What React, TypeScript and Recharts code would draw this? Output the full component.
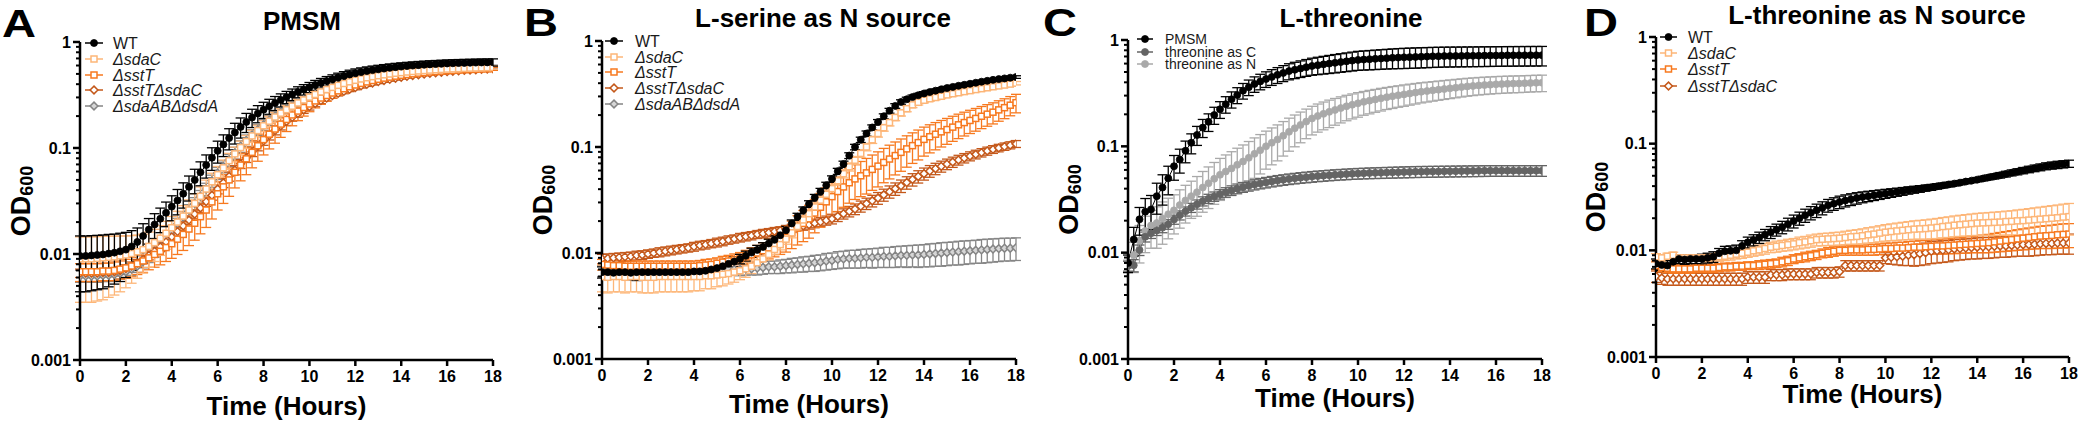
import React from "react";
import { LineChart, Line, XAxis, YAxis, ErrorBar, Legend } from "recharts";

const FONT = "'Liberation Sans', Arial, sans-serif";

const hours = [
  0, 0.25, 0.5, 0.75, 1, 1.25, 1.5, 1.75,
  2, 2.25, 2.5, 2.75, 3, 3.25, 3.5, 3.75,
  4, 4.25, 4.5, 4.75, 5, 5.25, 5.5, 5.75,
  6, 6.25, 6.5, 6.75, 7, 7.25, 7.5, 7.75,
  8, 8.25, 8.5, 8.75, 9, 9.25, 9.5, 9.75,
  10, 10.25, 10.5, 10.75, 11, 11.25, 11.5, 11.75,
  12, 12.25, 12.5, 12.75, 13, 13.25, 13.5, 13.75,
  14, 14.25, 14.5, 14.75, 15, 15.25, 15.5, 15.75,
  16, 16.25, 16.5, 16.75, 17, 17.25, 17.5, 17.75,
  18,
];

const xTicks = [0, 2, 4, 6, 8, 10, 12, 14, 16, 18];
const yTicks = [
  0.001, 0.002, 0.003, 0.004, 0.005, 0.006, 0.007, 0.008, 0.009,
  0.01, 0.02, 0.03, 0.04, 0.05, 0.06, 0.07, 0.08, 0.09,
  0.1, 0.2, 0.3, 0.4, 0.5, 0.6, 0.7, 0.8, 0.9, 1,
];
const yMajor = [0.001, 0.01, 0.1, 1];
const yMajorLabels = ["0.001", "0.01", "0.1", "1"];

// ---- Panel A: PMSM ----
const aWT = [
  0.0096, 0.0096, 0.0097, 0.0098, 0.0099, 0.0101, 0.0103, 0.0106,
  0.011, 0.0118, 0.013, 0.0148, 0.017, 0.019, 0.0215, 0.0245,
  0.028, 0.032, 0.037, 0.043, 0.05, 0.059, 0.069, 0.081,
  0.094, 0.108, 0.124, 0.14, 0.158, 0.176, 0.194, 0.212,
  0.23, 0.248, 0.266, 0.284, 0.302, 0.32, 0.338, 0.356,
  0.374, 0.392, 0.41, 0.428, 0.445, 0.462, 0.478, 0.494,
  0.508, 0.52, 0.532, 0.543, 0.553, 0.562, 0.571, 0.579,
  0.586, 0.593, 0.599, 0.605, 0.61, 0.615, 0.619, 0.623,
  0.627, 0.63, 0.633, 0.635, 0.637, 0.639, 0.641, 0.642,
  0.643,
];
const aWTErr = [
  0.0052, 0.0052, 0.0052, 0.0052, 0.0052, 0.0052, 0.0051, 0.0051,
  0.005, 0.0048, 0.0046, 0.0045, 0.0046, 0.005, 0.0056, 0.0064,
  0.0074, 0.0086, 0.0099, 0.0114, 0.013, 0.015, 0.017, 0.0195,
  0.022, 0.025, 0.028, 0.031, 0.034, 0.036, 0.038, 0.039,
  0.04, 0.04, 0.04, 0.04, 0.04, 0.04, 0.04, 0.04,
  0.041, 0.042, 0.043, 0.044, 0.045, 0.046, 0.047, 0.048,
  0.049, 0.05, 0.05, 0.05, 0.05, 0.05, 0.05, 0.05,
  0.05, 0.05, 0.05, 0.05, 0.05, 0.05, 0.05, 0.05,
  0.05, 0.05, 0.05, 0.05, 0.05, 0.05, 0.05, 0.05,
  0.05,
];
const aSdaC = [
  0.009, 0.009, 0.009, 0.0091, 0.0092, 0.0093, 0.0094, 0.0096,
  0.0098, 0.0101, 0.0105, 0.011, 0.0118, 0.0128, 0.0141, 0.0157,
  0.0177, 0.02, 0.0228, 0.026, 0.03, 0.035, 0.041, 0.048,
  0.056, 0.065, 0.076, 0.088, 0.101, 0.115, 0.13, 0.146,
  0.162, 0.179, 0.196, 0.213, 0.23, 0.248, 0.266, 0.284,
  0.302, 0.32, 0.338, 0.356, 0.373, 0.39, 0.406, 0.421,
  0.435, 0.448, 0.46, 0.471, 0.481, 0.49, 0.499, 0.507,
  0.514, 0.521, 0.527, 0.533, 0.538, 0.543, 0.547, 0.551,
  0.555, 0.558, 0.561, 0.564, 0.567, 0.569, 0.571, 0.573,
  0.575,
];
const aSdaCErr = [
  0.0055, 0.0055, 0.0055, 0.0055, 0.0055, 0.0054, 0.0053, 0.0052,
  0.005, 0.0048, 0.0046, 0.0044, 0.0043, 0.0043, 0.0044, 0.0046,
  0.0049, 0.0053, 0.0058, 0.0064, 0.0071, 0.0079, 0.0088, 0.0098,
  0.011, 0.012, 0.013, 0.014, 0.015, 0.016, 0.017, 0.018,
  0.019, 0.02, 0.021, 0.022, 0.022, 0.022, 0.022, 0.022,
  0.022, 0.022, 0.022, 0.022, 0.022, 0.022, 0.022, 0.022,
  0.022, 0.022, 0.022, 0.022, 0.022, 0.022, 0.022, 0.022,
  0.022, 0.022, 0.022, 0.022, 0.022, 0.022, 0.022, 0.022,
  0.022, 0.022, 0.022, 0.022, 0.022, 0.022, 0.022, 0.022,
  0.022,
];
const aSstT = [
  0.0068, 0.0068, 0.0068, 0.0068, 0.0069, 0.0069, 0.007, 0.0072,
  0.0074, 0.0077, 0.0081, 0.0086, 0.0092, 0.0099, 0.0106, 0.0115,
  0.0125, 0.0138, 0.0153, 0.0172, 0.0195, 0.0225, 0.026, 0.031,
  0.037, 0.043, 0.05, 0.059, 0.069, 0.079, 0.091, 0.105,
  0.12, 0.135, 0.151, 0.168, 0.186, 0.205, 0.223, 0.241,
  0.26, 0.278, 0.296, 0.313, 0.33, 0.346, 0.362, 0.378,
  0.393, 0.407, 0.42, 0.433, 0.445, 0.456, 0.466, 0.476,
  0.485, 0.493, 0.501, 0.508, 0.515, 0.521, 0.526, 0.531,
  0.536, 0.54, 0.544, 0.548, 0.551, 0.554, 0.557, 0.559,
  0.561,
];
const aSstTErr = [
  0.0013, 0.0013, 0.0013, 0.0013, 0.0013, 0.0013, 0.0014, 0.0014,
  0.0015, 0.0016, 0.0017, 0.0019, 0.0021, 0.0024, 0.0027, 0.003,
  0.0034, 0.0039, 0.0045, 0.0052, 0.006, 0.007, 0.0082, 0.0096,
  0.011, 0.013, 0.015, 0.017, 0.02, 0.023, 0.026, 0.03,
  0.034, 0.037, 0.04, 0.042, 0.043, 0.043, 0.042, 0.041,
  0.04, 0.039, 0.038, 0.037, 0.035, 0.033, 0.031, 0.029,
  0.027, 0.026, 0.025, 0.024, 0.023, 0.022, 0.021, 0.02,
  0.02, 0.02, 0.02, 0.02, 0.02, 0.02, 0.02, 0.02,
  0.02, 0.02, 0.02, 0.02, 0.02, 0.02, 0.02, 0.02,
  0.02,
];
const aDouble = [
  0.0066, 0.0066, 0.0066, 0.0066, 0.0067, 0.0067, 0.0068, 0.007,
  0.0073, 0.0077, 0.0082, 0.0089, 0.0097, 0.0106, 0.0117, 0.013,
  0.0145, 0.0163, 0.0184, 0.0209, 0.0238, 0.0272, 0.0312, 0.0358,
  0.041, 0.047, 0.054, 0.062, 0.071, 0.081, 0.092, 0.104,
  0.117, 0.131, 0.146, 0.162, 0.178, 0.195, 0.212, 0.229,
  0.246, 0.263, 0.28, 0.296, 0.312, 0.328, 0.343, 0.358,
  0.372, 0.386, 0.399, 0.411, 0.423, 0.434, 0.445, 0.455,
  0.465, 0.474, 0.483, 0.491, 0.499, 0.506, 0.513, 0.519,
  0.525, 0.53, 0.535, 0.54, 0.544, 0.548, 0.552, 0.555,
  0.558,
];
const aDoubleErr = [
  0.0006, 0.0006, 0.0006, 0.0006, 0.0006, 0.0006, 0.0006, 0.0006,
  0.0006, 0.0007, 0.0007, 0.0008, 0.0009, 0.001, 0.0011, 0.0012,
  0.0014, 0.0016, 0.0018, 0.002, 0.0023, 0.0027, 0.0031, 0.0036,
  0.0041, 0.0047, 0.0054, 0.0062, 0.007, 0.008, 0.009, 0.01,
  0.011, 0.012, 0.013, 0.014, 0.015, 0.016, 0.017, 0.017,
  0.018, 0.018, 0.018, 0.018, 0.018, 0.018, 0.018, 0.018,
  0.018, 0.018, 0.018, 0.018, 0.018, 0.018, 0.018, 0.018,
  0.018, 0.018, 0.018, 0.018, 0.018, 0.018, 0.018, 0.018,
  0.018, 0.018, 0.018, 0.018, 0.018, 0.018, 0.018, 0.018,
  0.018,
];
const aSda = [
  0.0062, 0.0062, 0.0062, 0.0062, 0.0063, 0.0063, 0.0064, 0.0066,
  0.0068, 0.0072, 0.0077, 0.0085, 0.0095, 0.0107, 0.0121, 0.0141,
  0.0165, 0.0192, 0.0222, 0.0258, 0.03, 0.035, 0.041, 0.049,
  0.058, 0.067, 0.077, 0.09, 0.104, 0.118, 0.133, 0.149,
  0.166, 0.183, 0.2, 0.217, 0.234, 0.251, 0.268, 0.285,
  0.302, 0.319, 0.336, 0.352, 0.368, 0.383, 0.398, 0.412,
  0.426, 0.439, 0.451, 0.462, 0.473, 0.483, 0.493, 0.502,
  0.51, 0.518, 0.525, 0.532, 0.538, 0.544, 0.549, 0.554,
  0.558, 0.562, 0.566, 0.569, 0.572, 0.575, 0.577, 0.579,
  0.581,
];
const aSdaErr = [
  0.0008, 0.0008, 0.0008, 0.0008, 0.0008, 0.0008, 0.0008, 0.0008,
  0.0008, 0.0009, 0.001, 0.0011, 0.0012, 0.0014, 0.0016, 0.0018,
  0.0021, 0.0025, 0.0029, 0.0034, 0.004, 0.0047, 0.0055, 0.0064,
  0.0075, 0.0087, 0.01, 0.0115, 0.013, 0.0145, 0.016, 0.0175,
  0.019, 0.02, 0.021, 0.022, 0.023, 0.024, 0.024, 0.024,
  0.024, 0.024, 0.024, 0.024, 0.024, 0.024, 0.024, 0.024,
  0.024, 0.024, 0.024, 0.024, 0.024, 0.024, 0.024, 0.024,
  0.024, 0.024, 0.024, 0.024, 0.024, 0.024, 0.024, 0.024,
  0.024, 0.024, 0.024, 0.024, 0.024, 0.024, 0.024, 0.024,
  0.024,
];

// ---- Panel B: L-serine as N source ----
const bWT = [
  0.0066, 0.0066, 0.0065, 0.0066, 0.0066, 0.0065, 0.0066, 0.0066,
  0.0066, 0.0066, 0.0066, 0.0066, 0.0066, 0.0066, 0.0066, 0.0066,
  0.0067, 0.0067, 0.0068, 0.007, 0.0072, 0.0075, 0.0079, 0.0083,
  0.0088, 0.0094, 0.0101, 0.0107, 0.0114, 0.0123, 0.0133, 0.0147,
  0.0164, 0.019, 0.022, 0.0253, 0.029, 0.0333, 0.038, 0.0435,
  0.05, 0.059, 0.069, 0.083, 0.1, 0.117, 0.134, 0.153,
  0.172, 0.195, 0.22, 0.244, 0.266, 0.282, 0.296, 0.308,
  0.32, 0.33, 0.34, 0.35, 0.36, 0.369, 0.378, 0.386,
  0.395, 0.404, 0.413, 0.421, 0.43, 0.437, 0.444, 0.451,
  0.457,
];
const bWTErr = [
  0.0008, 0.0008, 0.0008, 0.0008, 0.0008, 0.0009, 0.0011, 0.0009,
  0.0008, 0.0008, 0.0008, 0.0008, 0.0008, 0.0008, 0.0008, 0.0008,
  0.0008, 0.0008, 0.0008, 0.0008, 0.0008, 0.0009, 0.0009, 0.0009,
  0.0009, 0.001, 0.001, 0.0011, 0.0011, 0.0012, 0.0012, 0.0013,
  0.0014, 0.0015, 0.0017, 0.0019, 0.0021, 0.0024, 0.0027, 0.003,
  0.0034, 0.0039, 0.0045, 0.0052, 0.006, 0.0068, 0.0076, 0.0085,
  0.0095, 0.0105, 0.0115, 0.0122, 0.0128, 0.013, 0.013, 0.013,
  0.013, 0.013, 0.013, 0.013, 0.013, 0.013, 0.013, 0.013,
  0.013, 0.013, 0.013, 0.013, 0.013, 0.013, 0.013, 0.013,
  0.013,
];
const bSdaC = [
  0.006, 0.0059, 0.006, 0.006, 0.0059, 0.006, 0.006, 0.0059,
  0.0059, 0.0059, 0.006, 0.006, 0.006, 0.006, 0.006, 0.006,
  0.006, 0.006, 0.0061, 0.0061, 0.0062, 0.0063, 0.0064, 0.0066,
  0.0068, 0.0071, 0.0075, 0.0081, 0.0088, 0.0097, 0.0108, 0.012,
  0.0135, 0.0155, 0.0178, 0.0205, 0.0235, 0.0272, 0.0315, 0.0358,
  0.0405, 0.048, 0.056, 0.065, 0.075, 0.087, 0.1, 0.117,
  0.134, 0.152, 0.17, 0.19, 0.21, 0.23, 0.25, 0.264,
  0.276, 0.285, 0.293, 0.301, 0.31, 0.318, 0.325, 0.333,
  0.34, 0.348, 0.355, 0.362, 0.37, 0.377, 0.384, 0.392,
  0.4,
];
const bSdaCErr = [
  0.0017, 0.0017, 0.0017, 0.0017, 0.0017, 0.0017, 0.0017, 0.0017,
  0.0017, 0.0017, 0.0017, 0.0017, 0.0017, 0.0017, 0.0017, 0.0017,
  0.0016, 0.0016, 0.0015, 0.0015, 0.0014, 0.0014, 0.0013, 0.0013,
  0.0012, 0.0012, 0.0011, 0.0011, 0.0011, 0.0011, 0.0012, 0.0013,
  0.0014, 0.0016, 0.0018, 0.002, 0.0023, 0.0026, 0.003, 0.0034,
  0.0038, 0.0044, 0.005, 0.0057, 0.0064, 0.0072, 0.008, 0.009,
  0.01, 0.011, 0.012, 0.013, 0.014, 0.015, 0.015, 0.015,
  0.015, 0.015, 0.015, 0.015, 0.015, 0.015, 0.015, 0.015,
  0.015, 0.015, 0.015, 0.015, 0.015, 0.015, 0.015, 0.015,
  0.015,
];
const bSstT = [
  0.0078, 0.0077, 0.0076, 0.0076, 0.0075, 0.0075, 0.0075, 0.0075,
  0.0075, 0.0075, 0.0075, 0.0075, 0.0075, 0.0075, 0.0075, 0.0075,
  0.0075, 0.0076, 0.0077, 0.0078, 0.008, 0.0082, 0.0084, 0.0086,
  0.0088, 0.0092, 0.0096, 0.01, 0.0105, 0.0112, 0.012, 0.013,
  0.014, 0.0155, 0.0172, 0.019, 0.021, 0.0238, 0.027, 0.0304,
  0.034, 0.038, 0.042, 0.046, 0.05, 0.0535, 0.057, 0.0615,
  0.066, 0.0715, 0.077, 0.083, 0.089, 0.096, 0.103, 0.11,
  0.118, 0.125, 0.132, 0.139, 0.146, 0.154, 0.162, 0.17,
  0.178, 0.186, 0.195, 0.204, 0.213, 0.224, 0.235, 0.248,
  0.262,
];
const bSstTErr = [
  0.0009, 0.0009, 0.0009, 0.0009, 0.0009, 0.0009, 0.0009, 0.0009,
  0.0009, 0.0009, 0.0009, 0.0009, 0.0009, 0.0009, 0.0009, 0.0009,
  0.0009, 0.0009, 0.001, 0.001, 0.001, 0.0011, 0.0011, 0.0012,
  0.0013, 0.0014, 0.0016, 0.0018, 0.002, 0.0024, 0.0028, 0.0033,
  0.0038, 0.0045, 0.0053, 0.0062, 0.0072, 0.0083, 0.0095, 0.0108,
  0.012, 0.0135, 0.015, 0.0165, 0.018, 0.0195, 0.021, 0.0225,
  0.024, 0.0255, 0.027, 0.0285, 0.03, 0.0315, 0.033, 0.0345,
  0.036, 0.037, 0.038, 0.039, 0.04, 0.041, 0.042, 0.043,
  0.044, 0.045, 0.046, 0.047, 0.048, 0.049, 0.05, 0.051,
  0.052,
];
const bDouble = [
  0.0088, 0.0089, 0.009, 0.0091, 0.0092, 0.0093, 0.0095, 0.0096,
  0.0098, 0.01, 0.0102, 0.0104, 0.0106, 0.0108, 0.011, 0.0112,
  0.0115, 0.0118, 0.012, 0.0123, 0.0126, 0.0129, 0.0133, 0.0136,
  0.014, 0.0143, 0.0146, 0.015, 0.0153, 0.0156, 0.016, 0.0163,
  0.0167, 0.0171, 0.0176, 0.018, 0.0185, 0.0191, 0.0197, 0.0203,
  0.021, 0.0222, 0.0235, 0.0247, 0.026, 0.0276, 0.0293, 0.0311,
  0.033, 0.0354, 0.0379, 0.0404, 0.043, 0.0462, 0.0494, 0.0527,
  0.056, 0.0593, 0.0625, 0.0657, 0.069, 0.0722, 0.0755, 0.0787,
  0.082, 0.0852, 0.0885, 0.0917, 0.095, 0.098, 0.101, 0.104,
  0.107,
];
const bDoubleErr = [
  0.0009, 0.0009, 0.0009, 0.0009, 0.0009, 0.0009, 0.0009, 0.0009,
  0.0009, 0.0009, 0.001, 0.001, 0.001, 0.001, 0.001, 0.001,
  0.0011, 0.0011, 0.0011, 0.0011, 0.0012, 0.0012, 0.0012, 0.0012,
  0.0013, 0.0013, 0.0013, 0.0013, 0.0014, 0.0014, 0.0014, 0.0014,
  0.0015, 0.0015, 0.0016, 0.0016, 0.0017, 0.0018, 0.0019, 0.002,
  0.0022, 0.0024, 0.0026, 0.0028, 0.003, 0.0033, 0.0036, 0.0039,
  0.0042, 0.0046, 0.005, 0.0054, 0.0058, 0.0062, 0.0066, 0.007,
  0.0073, 0.0075, 0.0077, 0.0078, 0.0079, 0.008, 0.008, 0.008,
  0.008, 0.008, 0.008, 0.008, 0.008, 0.008, 0.008, 0.008,
  0.008,
];
const bSda = [
  0.0068, 0.0068, 0.0068, 0.0068, 0.0068, 0.0068, 0.0068, 0.0068,
  0.0068, 0.0068, 0.0068, 0.0068, 0.0068, 0.0068, 0.0068, 0.0068,
  0.0068, 0.0068, 0.0069, 0.0069, 0.0069, 0.0069, 0.007, 0.007,
  0.007, 0.0071, 0.0071, 0.0072, 0.0073, 0.0074, 0.0074, 0.0075,
  0.0076, 0.0077, 0.0078, 0.0079, 0.008, 0.0081, 0.0082, 0.0084,
  0.0085, 0.0087, 0.0088, 0.0089, 0.0089, 0.009, 0.0091, 0.0091,
  0.0092, 0.0093, 0.0093, 0.0094, 0.0095, 0.0095, 0.0096, 0.0096,
  0.0097, 0.0098, 0.0099, 0.01, 0.0101, 0.0102, 0.0103, 0.0104,
  0.0105, 0.0106, 0.0107, 0.0108, 0.0109, 0.011, 0.0111, 0.0111,
  0.0112,
];
const bSdaErr = [
  0.0008, 0.0008, 0.0008, 0.0008, 0.0008, 0.0008, 0.0008, 0.0008,
  0.0008, 0.0008, 0.0008, 0.0008, 0.0008, 0.0008, 0.0008, 0.0008,
  0.0008, 0.0008, 0.0008, 0.0008, 0.0008, 0.0008, 0.0008, 0.0008,
  0.0009, 0.0009, 0.0009, 0.001, 0.001, 0.001, 0.001, 0.0011,
  0.0011, 0.0012, 0.0012, 0.0013, 0.0013, 0.0014, 0.0014, 0.0015,
  0.0015, 0.0016, 0.0016, 0.0017, 0.0017, 0.0018, 0.0018, 0.0019,
  0.0019, 0.002, 0.002, 0.0021, 0.0021, 0.0022, 0.0022, 0.0023,
  0.0023, 0.0024, 0.0024, 0.0025, 0.0025, 0.0025, 0.0026, 0.0026,
  0.0026, 0.0026, 0.0027, 0.0027, 0.0027, 0.0027, 0.0027, 0.0027,
  0.0027,
];

// ---- Panel C: L-threonine ----
const cPMSM = [
  0.008, 0.0133, 0.0206, 0.0243, 0.0255, 0.034, 0.041, 0.05,
  0.065, 0.075, 0.091, 0.108, 0.128, 0.15, 0.17, 0.197,
  0.223, 0.249, 0.277, 0.304, 0.334, 0.36, 0.386, 0.408,
  0.43, 0.45, 0.47, 0.49, 0.51, 0.525, 0.54, 0.555,
  0.57, 0.58, 0.59, 0.6, 0.61, 0.62, 0.63, 0.64,
  0.65, 0.655, 0.66, 0.665, 0.67, 0.675, 0.68, 0.684,
  0.687, 0.69, 0.693, 0.696, 0.699, 0.702, 0.704, 0.706,
  0.707, 0.708, 0.709, 0.71, 0.711, 0.712, 0.713, 0.714,
  0.715, 0.716, 0.717, 0.717, 0.718, 0.718, 0.719, 0.719,
  0.72,
];
const cPMSMErr = [
  0.0015, 0.004, 0.006, 0.008, 0.009, 0.011, 0.013, 0.015,
  0.017, 0.019, 0.021, 0.023, 0.026, 0.029, 0.032, 0.036,
  0.04, 0.044, 0.048, 0.052, 0.056, 0.06, 0.064, 0.068,
  0.072, 0.076, 0.08, 0.084, 0.088, 0.092, 0.096, 0.1,
  0.104, 0.108, 0.112, 0.116, 0.12, 0.123, 0.126, 0.129,
  0.132, 0.134, 0.136, 0.138, 0.14, 0.142, 0.144, 0.146,
  0.148, 0.149, 0.15, 0.15, 0.15, 0.15, 0.15, 0.15,
  0.15, 0.15, 0.15, 0.15, 0.15, 0.15, 0.15, 0.15,
  0.15, 0.15, 0.15, 0.15, 0.15, 0.15, 0.15, 0.15,
  0.15,
];
const cThrC = [
  0.0075, 0.0076, 0.0106, 0.0141, 0.0152, 0.0162, 0.0172, 0.0185,
  0.0205, 0.0225, 0.0245, 0.0265, 0.0285, 0.0305, 0.0322, 0.0338,
  0.0355, 0.037, 0.0385, 0.04, 0.0413, 0.0425, 0.0437, 0.0448,
  0.0458, 0.0468, 0.0477, 0.0485, 0.0493, 0.05, 0.0507, 0.0513,
  0.0519, 0.0525, 0.053, 0.0535, 0.054, 0.0544, 0.0548, 0.0552,
  0.0555, 0.0558, 0.0561, 0.0563, 0.0565, 0.0567, 0.0569, 0.0571,
  0.0573, 0.0575, 0.0577, 0.0578, 0.0579, 0.058, 0.0581, 0.0582,
  0.0583, 0.0584, 0.0585, 0.0586, 0.0587, 0.0588, 0.0589, 0.059,
  0.059, 0.059, 0.059, 0.059, 0.059, 0.059, 0.059, 0.059,
  0.059,
];
const cThrCErr = [
  0.0008, 0.001, 0.0012, 0.0015, 0.0016, 0.0017, 0.0018, 0.0019,
  0.002, 0.0022, 0.0024, 0.0026, 0.0028, 0.003, 0.0032, 0.0034,
  0.0036, 0.0038, 0.004, 0.0042, 0.0044, 0.0046, 0.0048, 0.005,
  0.0052, 0.0053, 0.0054, 0.0055, 0.0056, 0.0057, 0.0058, 0.0059,
  0.006, 0.006, 0.0061, 0.0061, 0.0062, 0.0062, 0.0063, 0.0063,
  0.0064, 0.0064, 0.0065, 0.0065, 0.0066, 0.0066, 0.0067, 0.0067,
  0.0068, 0.0068, 0.0068, 0.0068, 0.0068, 0.0068, 0.0068, 0.0068,
  0.0068, 0.0068, 0.0068, 0.0068, 0.0068, 0.0068, 0.0068, 0.0068,
  0.0068, 0.0068, 0.0068, 0.0068, 0.0068, 0.0068, 0.0068, 0.0068,
  0.0068,
];
const cThrN = [
  0.0075, 0.0095, 0.013, 0.016, 0.018, 0.019, 0.021, 0.023,
  0.025, 0.028, 0.031, 0.034, 0.037, 0.041, 0.045, 0.0495,
  0.054, 0.058, 0.062, 0.067, 0.072, 0.078, 0.085, 0.092,
  0.1, 0.108, 0.116, 0.126, 0.137, 0.148, 0.159, 0.171,
  0.183, 0.193, 0.202, 0.211, 0.22, 0.229, 0.238, 0.246,
  0.254, 0.262, 0.269, 0.276, 0.283, 0.29, 0.296, 0.302,
  0.308, 0.314, 0.32, 0.326, 0.331, 0.336, 0.341, 0.346,
  0.351, 0.356, 0.361, 0.366, 0.37, 0.374, 0.377, 0.38,
  0.383, 0.385, 0.387, 0.389, 0.39, 0.392, 0.394, 0.396,
  0.397,
];
const cThrNErr = [
  0.001, 0.003, 0.005, 0.006, 0.007, 0.008, 0.009, 0.0095,
  0.01, 0.011, 0.012, 0.013, 0.015, 0.017, 0.019, 0.021,
  0.023, 0.025, 0.027, 0.029, 0.031, 0.033, 0.035, 0.037,
  0.039, 0.041, 0.043, 0.045, 0.047, 0.049, 0.051, 0.053,
  0.055, 0.057, 0.059, 0.061, 0.062, 0.063, 0.064, 0.065,
  0.066, 0.066, 0.067, 0.067, 0.068, 0.068, 0.069, 0.069,
  0.07, 0.07, 0.07, 0.07, 0.07, 0.07, 0.07, 0.07,
  0.07, 0.07, 0.07, 0.07, 0.07, 0.07, 0.07, 0.07,
  0.07, 0.07, 0.07, 0.07, 0.07, 0.07, 0.07, 0.07,
  0.07,
];

// ---- Panel D: L-threonine as N source ----
const dWT = [
  0.0075, 0.0073, 0.0072, 0.0078, 0.0083, 0.0082, 0.0083, 0.0083,
  0.0083, 0.0085, 0.0087, 0.0094, 0.0098, 0.0099, 0.01, 0.011,
  0.0119, 0.0125, 0.0132, 0.014, 0.0148, 0.0156, 0.0165, 0.0176,
  0.0188, 0.02, 0.0213, 0.0225, 0.0237, 0.025, 0.0264, 0.0274,
  0.0284, 0.0293, 0.0301, 0.0309, 0.0316, 0.0322, 0.0328, 0.0334,
  0.034, 0.0346, 0.0352, 0.0358, 0.0365, 0.0371, 0.0377, 0.0384,
  0.039, 0.0398, 0.0406, 0.0414, 0.0422, 0.0431, 0.0441, 0.045,
  0.046, 0.0471, 0.0483, 0.0494, 0.0506, 0.0519, 0.0533, 0.0546,
  0.056, 0.0574, 0.0588, 0.0601, 0.0615, 0.0625, 0.0634, 0.0642,
  0.065,
];
const dWTErr = [
  0.0008, 0.0008, 0.0008, 0.0008, 0.0008, 0.0008, 0.0008, 0.0008,
  0.0009, 0.0009, 0.001, 0.001, 0.0011, 0.0011, 0.0012, 0.0013,
  0.0014, 0.0015, 0.0016, 0.0017, 0.0019, 0.002, 0.0022, 0.0024,
  0.0026, 0.0028, 0.003, 0.0032, 0.0034, 0.0035, 0.0036, 0.0037,
  0.0038, 0.0038, 0.0038, 0.0038, 0.0037, 0.0036, 0.0035, 0.0034,
  0.0033, 0.0032, 0.0031, 0.003, 0.0029, 0.0028, 0.0027, 0.0026,
  0.0025, 0.0024, 0.0023, 0.0022, 0.0021, 0.002, 0.002, 0.002,
  0.0022, 0.0024, 0.0026, 0.0028, 0.003, 0.0032, 0.0034, 0.0036,
  0.0038, 0.004, 0.0042, 0.0044, 0.0046, 0.0048, 0.005, 0.005,
  0.005,
];
const dSdaC = [
  0.0087, 0.0085, 0.0088, 0.009, 0.0085, 0.0085, 0.0085, 0.0085,
  0.0085, 0.0085, 0.0086, 0.0087, 0.0088, 0.009, 0.0092, 0.0094,
  0.0096, 0.0099, 0.0101, 0.0104, 0.0107, 0.0109, 0.0111, 0.0113,
  0.0115, 0.0118, 0.012, 0.0123, 0.0126, 0.0127, 0.0128, 0.0129,
  0.013, 0.0132, 0.0134, 0.0135, 0.0137, 0.014, 0.0142, 0.0145,
  0.0148, 0.015, 0.0152, 0.0154, 0.0156, 0.0158, 0.0159, 0.016,
  0.0162, 0.0164, 0.0167, 0.0169, 0.0172, 0.0174, 0.0176, 0.0178,
  0.018, 0.0181, 0.0182, 0.0183, 0.0184, 0.0186, 0.0187, 0.0189,
  0.019, 0.0192, 0.0194, 0.0196, 0.0198, 0.02, 0.0202, 0.0205,
  0.0207,
];
const dSdaCErr = [
  0.0006, 0.0006, 0.0006, 0.0006, 0.0006, 0.0006, 0.0006, 0.0006,
  0.0006, 0.0007, 0.0007, 0.0008, 0.0008, 0.0009, 0.0009, 0.001,
  0.001, 0.0011, 0.0011, 0.0012, 0.0012, 0.0013, 0.0013, 0.0014,
  0.0014, 0.0015, 0.0015, 0.0016, 0.0016, 0.0017, 0.0017, 0.0018,
  0.0018, 0.0019, 0.002, 0.0021, 0.0022, 0.0023, 0.0024, 0.0025,
  0.0026, 0.0027, 0.0028, 0.0029, 0.003, 0.0031, 0.0032, 0.0033,
  0.0034, 0.0035, 0.0036, 0.0037, 0.0038, 0.0039, 0.004, 0.0041,
  0.0042, 0.0043, 0.0044, 0.0045, 0.0046, 0.0047, 0.0048, 0.005,
  0.0052, 0.0054, 0.0056, 0.0058, 0.006, 0.0062, 0.0064, 0.0066,
  0.0068,
];
const dSstT = [
  0.0072, 0.0069, 0.0068, 0.0067, 0.0067, 0.0067, 0.0067, 0.0068,
  0.0068, 0.0068, 0.0068, 0.0069, 0.007, 0.007, 0.0071, 0.0071,
  0.0072, 0.0072, 0.0073, 0.0074, 0.0075, 0.0076, 0.0078, 0.008,
  0.0083, 0.0085, 0.0087, 0.0089, 0.0091, 0.0094, 0.0096, 0.0098,
  0.01, 0.01, 0.0101, 0.0101, 0.0101, 0.0102, 0.0102, 0.0103,
  0.0104, 0.0104, 0.0105, 0.0105, 0.0106, 0.0107, 0.0107, 0.0108,
  0.0109, 0.011, 0.011, 0.0111, 0.0112, 0.0113, 0.0114, 0.0115,
  0.0116, 0.0117, 0.0118, 0.012, 0.0122, 0.0124, 0.0126, 0.0128,
  0.013, 0.0132, 0.0134, 0.0136, 0.0137, 0.0138, 0.014, 0.0141,
  0.0142,
];
const dSstTErr = [
  0.0006, 0.0006, 0.0006, 0.0006, 0.0006, 0.0006, 0.0006, 0.0006,
  0.0006, 0.0006, 0.0006, 0.0006, 0.0006, 0.0006, 0.0006, 0.0006,
  0.0006, 0.0006, 0.0007, 0.0007, 0.0007, 0.0007, 0.0008, 0.0008,
  0.0008, 0.0008, 0.0009, 0.0009, 0.0009, 0.0009, 0.001, 0.001,
  0.001, 0.001, 0.0011, 0.0011, 0.0011, 0.0012, 0.0012, 0.0012,
  0.0013, 0.0013, 0.0014, 0.0014, 0.0015, 0.0015, 0.0016, 0.0016,
  0.0017, 0.0017, 0.0018, 0.0018, 0.0019, 0.0019, 0.002, 0.002,
  0.0021, 0.0022, 0.0023, 0.0024, 0.0025, 0.0026, 0.0027, 0.0028,
  0.0029, 0.003, 0.0031, 0.0032, 0.0033, 0.0034, 0.0035, 0.0036,
  0.0036,
];
const dDouble = [
  0.0057, 0.0055, 0.0054, 0.0054, 0.0054, 0.0054, 0.0054, 0.0054,
  0.0054, 0.0054, 0.0054, 0.0054, 0.0054, 0.0054, 0.0054, 0.0054,
  0.0056, 0.0056, 0.0056, 0.0056, 0.0059, 0.0059, 0.0059, 0.006,
  0.006, 0.006, 0.006, 0.006, 0.0062, 0.0062, 0.0062, 0.0062,
  0.0063, 0.0072, 0.0072, 0.0072, 0.0072, 0.0072, 0.0072, 0.0072,
  0.0085, 0.0086, 0.0087, 0.0088, 0.009, 0.0091, 0.0093, 0.0095,
  0.0098, 0.0099, 0.01, 0.0101, 0.0103, 0.0104, 0.0105, 0.0106,
  0.0107, 0.0108, 0.0108, 0.0109, 0.011, 0.011, 0.0111, 0.0112,
  0.0113, 0.0113, 0.0114, 0.0115, 0.0116, 0.0116, 0.0117, 0.0117,
  0.0117,
];
const dDoubleErr = [
  0.0007, 0.0007, 0.0007, 0.0007, 0.0007, 0.0007, 0.0007, 0.0007,
  0.0007, 0.0007, 0.0007, 0.0007, 0.0007, 0.0007, 0.0007, 0.0007,
  0.0007, 0.0007, 0.0007, 0.0007, 0.0007, 0.0007, 0.0007, 0.0007,
  0.0007, 0.0007, 0.0007, 0.0007, 0.0007, 0.0007, 0.0007, 0.0007,
  0.0007, 0.0008, 0.0008, 0.0008, 0.0008, 0.0008, 0.0008, 0.0008,
  0.001, 0.0012, 0.0014, 0.0016, 0.0018, 0.002, 0.0021, 0.0022,
  0.0023, 0.0023, 0.0023, 0.0023, 0.0023, 0.0023, 0.0023, 0.0023,
  0.0024, 0.0024, 0.0024, 0.0024, 0.0024, 0.0024, 0.0024, 0.0024,
  0.0025, 0.0025, 0.0025, 0.0025, 0.0025, 0.0025, 0.0025, 0.0025,
  0.0025,
];

type Shape = "circle" | "square" | "diamond";
type Series = {
  key: string;
  name: string;
  italic: boolean;
  color: string;
  fill: string;
  shape: Shape;
  values: number[];
  errors: number[];
};

const BLACK = "#000000";
const LIGHT_ORANGE = "#fdb678";
const ORANGE = "#f7791f";
const DARK_ORANGE = "#c4581a";
const GRAY = "#858585";

const panelASeries: Series[] = [
  { key: "wt", name: "WT", italic: false, color: BLACK, fill: BLACK, shape: "circle", values: aWT, errors: aWTErr },
  { key: "sdaC", name: "ΔsdaC", italic: true, color: LIGHT_ORANGE, fill: "#fff", shape: "square", values: aSdaC, errors: aSdaCErr },
  { key: "sstT", name: "ΔsstT", italic: true, color: ORANGE, fill: "#fff", shape: "square", values: aSstT, errors: aSstTErr },
  { key: "dbl", name: "ΔsstTΔsdaC", italic: true, color: DARK_ORANGE, fill: "#fff", shape: "diamond", values: aDouble, errors: aDoubleErr },
  { key: "sda", name: "ΔsdaABΔdsdA", italic: true, color: GRAY, fill: "#d6d6d6", shape: "diamond", values: aSda, errors: aSdaErr },
];
const panelBSeries: Series[] = [
  { key: "wt", name: "WT", italic: false, color: BLACK, fill: BLACK, shape: "circle", values: bWT, errors: bWTErr },
  { key: "sdaC", name: "ΔsdaC", italic: true, color: LIGHT_ORANGE, fill: "#fff", shape: "square", values: bSdaC, errors: bSdaCErr },
  { key: "sstT", name: "ΔsstT", italic: true, color: ORANGE, fill: "#fff", shape: "square", values: bSstT, errors: bSstTErr },
  { key: "dbl", name: "ΔsstTΔsdaC", italic: true, color: DARK_ORANGE, fill: "#fff", shape: "diamond", values: bDouble, errors: bDoubleErr },
  { key: "sda", name: "ΔsdaABΔdsdA", italic: true, color: GRAY, fill: "#d6d6d6", shape: "diamond", values: bSda, errors: bSdaErr },
];
const panelCSeries: Series[] = [
  { key: "pmsm", name: "PMSM", italic: false, color: BLACK, fill: BLACK, shape: "circle", values: cPMSM, errors: cPMSMErr },
  { key: "thrC", name: "threonine as C", italic: false, color: "#646464", fill: "#646464", shape: "circle", values: cThrC, errors: cThrCErr },
  { key: "thrN", name: "threonine as N", italic: false, color: "#a9a9a9", fill: "#a9a9a9", shape: "circle", values: cThrN, errors: cThrNErr },
];
const panelDSeries: Series[] = [
  { key: "wt", name: "WT", italic: false, color: BLACK, fill: BLACK, shape: "circle", values: dWT, errors: dWTErr },
  { key: "sdaC", name: "ΔsdaC", italic: true, color: LIGHT_ORANGE, fill: "#fff", shape: "square", values: dSdaC, errors: dSdaCErr },
  { key: "sstT", name: "ΔsstT", italic: true, color: ORANGE, fill: "#fff", shape: "square", values: dSstT, errors: dSstTErr },
  { key: "dbl", name: "ΔsstTΔsdaC", italic: true, color: DARK_ORANGE, fill: "#fff", shape: "diamond", values: dDouble, errors: dDoubleErr },
];

type Panel = {
  letter: string;
  title: string;
  left: number;
  axisWidth: number;
  margin: { top: number; right: number; bottom: number; left: number };
  titleX: number;
  titleY: number;
  letterX: number;
  letterY: number;
  yLabelX: number;
  xLabelOffset: number;
  legend: { rows: number[]; x1: number; x2: number; textX: number; fontSize: number };
  series: Series[];
};

const panels: Panel[] = [
  {
    letter: "A", title: "PMSM", left: 0, axisWidth: 80,
    margin: { top: 42, right: 25, bottom: 3, left: 0 },
    titleX: 302, titleY: 30, letterX: 2, letterY: 37, yLabelX: 30, xLabelOffset: 5,
    legend: { rows: [43, 59, 75, 90, 106], x1: 85, x2: 103, textX: 113, fontSize: 16 },
    series: panelASeries,
  },
  {
    letter: "B", title: "L-serine as N source", left: 520, axisWidth: 82,
    margin: { top: 41, right: 22, bottom: 4, left: 0 },
    titleX: 303, titleY: 27, letterX: 4, letterY: 36, yLabelX: 32, xLabelOffset: 6,
    legend: { rows: [41, 57, 72, 88, 104], x1: 85, x2: 103, textX: 115, fontSize: 16 },
    series: panelBSeries,
  },
  {
    letter: "C", title: "L-threonine", left: 1040, axisWidth: 88,
    margin: { top: 40, right: 16, bottom: 4, left: 0 },
    titleX: 311, titleY: 27, letterX: 3, letterY: 36, yLabelX: 38, xLabelOffset: 12,
    legend: { rows: [39, 52, 64], x1: 97, x2: 113, textX: 125, fontSize: 14 },
    series: panelCSeries,
  },
  {
    letter: "D", title: "L-threonine as N source", left: 1560, axisWidth: 96,
    margin: { top: 37, right: 9, bottom: 6, left: 0 },
    titleX: 317, titleY: 24, letterX: 24, letterY: 36, yLabelX: 45, xLabelOffset: 14,
    legend: { rows: [37, 53, 69, 86], x1: 100, x2: 117, textX: 128, fontSize: 16 },
    series: panelDSeries,
  },
];

const CHART_W = 518;
const CHART_H = 423;
const X_AXIS_H = 60;

const Marker = ({ cx, cy, s }: { cx: number; cy: number; s: Series }) => {
  if (cx == null || cy == null || isNaN(cx) || isNaN(cy)) return null;
  if (s.shape === "circle") {
    return <circle cx={cx} cy={cy} r={3.5} fill={s.fill} stroke={s.color} strokeWidth={0.8} />;
  }
  if (s.shape === "square") {
    return <rect x={cx - 3} y={cy - 3} width={6} height={6} fill={s.fill} stroke={s.color} strokeWidth={1.5} />;
  }
  const r = 3.9;
  return (
    <path
      d={`M${cx},${cy - r}L${cx + r},${cy}L${cx},${cy + r}L${cx - r},${cy}Z`}
      fill={s.fill}
      stroke={s.color}
      strokeWidth={1.5}
    />
  );
};

const YTick = (props: any) => {
  const { x, y, payload } = props;
  const idx = yMajor.indexOf(payload.value);
  const major = idx >= 0;
  return (
    <g>
      <line x1={x - (major ? 7 : 4)} x2={x} y1={y} y2={y} stroke="#000" strokeWidth={major ? 2.5 : 2} />
      {major && (
        <text x={x - 9} y={y} dy="0.35em" textAnchor="end" fontSize={16} fontWeight={700} fill="#000">
          {yMajorLabels[idx]}
        </text>
      )}
    </g>
  );
};

const buildRows = (series: Series[]) =>
  hours.map((t, i) => {
    const row: Record<string, number> = { t };
    series.forEach((s) => {
      row[s.key] = s.values[i];
      row[s.key + "Err"] = s.errors[i];
    });
    return row;
  });

const PanelChart = ({ p }: { p: Panel }) => {
  const data = buildRows(p.series);
  const plotTop = p.margin.top;
  const plotBottom = CHART_H - p.margin.bottom - X_AXIS_H;
  const yMid = (plotTop + plotBottom) / 2;
  const drawOrder = [...p.series].reverse();

  const legendContent = () => (
    <svg width={CHART_W} height={130} style={{ display: "block", overflow: "visible" }}>
      {p.series.map((s, i) => {
        const y = p.legend.rows[i];
        return (
          <g key={s.key}>
            <line x1={p.legend.x1} x2={p.legend.x2} y1={y} y2={y} stroke={s.color} strokeWidth={1.5} />
            <Marker cx={(p.legend.x1 + p.legend.x2) / 2} cy={y} s={s} />
            <text
              x={p.legend.textX}
              y={y}
              dy="0.36em"
              fontSize={p.legend.fontSize}
              fontStyle={s.italic ? "italic" : "normal"}
              fill="#1a1a1a"
            >
              {s.name}
            </text>
          </g>
        );
      })}
    </svg>
  );

  return (
    <div style={{ position: "absolute", left: p.left, top: 0, width: CHART_W, height: CHART_H }}>
      <LineChart width={CHART_W} height={CHART_H} data={data} margin={p.margin}>
        <XAxis
          dataKey="t"
          type="number"
          domain={[0, 18]}
          ticks={xTicks}
          interval={0}
          allowDataOverflow
          height={X_AXIS_H}
          axisLine={{ stroke: "#000", strokeWidth: 2.5 }}
          tickLine={{ stroke: "#000", strokeWidth: 2.5 }}
          tickSize={6}
          tickMargin={5}
          tick={{ fontSize: 16, fontWeight: 700, fill: "#000" }}
          label={{
            value: "Time (Hours)",
            position: "insideBottom",
            offset: p.xLabelOffset,
            fontSize: 26,
            fontWeight: 700,
            fill: "#000",
          }}
        />
        <YAxis
          type="number"
          scale="log"
          domain={[0.001, 1]}
          ticks={yTicks}
          interval={0}
          allowDataOverflow
          width={p.axisWidth}
          axisLine={{ stroke: "#000", strokeWidth: 2.5 }}
          tickLine={false}
          tickSize={0}
          tickMargin={0}
          tick={<YTick />}
        />
        <Legend
          layout="vertical"
          align="center"
          verticalAlign="middle"
          wrapperStyle={{ left: 0, top: 0, width: CHART_W, height: 130 }}
          content={legendContent}
        />
        {drawOrder.map((s) => (
          <Line
            key={s.key}
            dataKey={s.key}
            name={s.name}
            type="linear"
            stroke={s.color}
            strokeWidth={1}
            isAnimationActive={false}
            activeDot={false}
            dot={(d: any) => <Marker key={`${s.key}-${d.index}`} cx={d.cx} cy={d.cy} s={s} />}
          >
            <ErrorBar
              dataKey={s.key + "Err"}
              width={5}
              stroke={s.color}
              strokeWidth={1.3}
              direction="y"
              isAnimationActive={false}
            />
          </Line>
        ))}
      </LineChart>
      <svg
        width={CHART_W}
        height={CHART_H}
        style={{ position: "absolute", left: 0, top: 0, pointerEvents: "none", overflow: "visible" }}
      >
        <text
          x={p.letterX}
          y={p.letterY}
          fontSize={39}
          fontWeight={700}
          fill="#000"
          textLength={34}
          lengthAdjust="spacingAndGlyphs"
        >
          {p.letter}
        </text>
        <text x={p.titleX} y={p.titleY} textAnchor="middle" fontSize={26} fontWeight={700} fill="#000">
          {p.title}
        </text>
        <text
          transform={`translate(${p.yLabelX},${yMid}) rotate(-90)`}
          textAnchor="middle"
          fontSize={27}
          fontWeight={700}
          fill="#000"
        >
          OD
          <tspan fontSize={18} dy={3}>
            600
          </tspan>
        </text>
      </svg>
    </div>
  );
};

export default function App() {
  return (
    <div
      style={{
        position: "absolute",
        left: 0,
        top: 0,
        width: 2078,
        height: 423,
        background: "#fff",
        fontFamily: FONT,
        overflow: "hidden",
      }}
    >
      {panels.map((p) => (
        <PanelChart key={p.letter} p={p} />
      ))}
    </div>
  );
}
